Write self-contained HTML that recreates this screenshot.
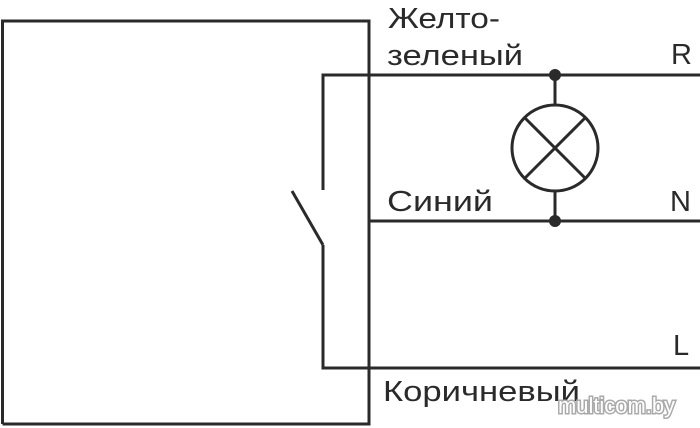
<!DOCTYPE html>
<html><head><meta charset="utf-8"><style>
html,body{margin:0;padding:0;background:#fff;width:700px;height:428px;overflow:hidden}
text{font-family:"Liberation Sans",sans-serif;fill:#2a2a2a}
</style></head><body>
<svg width="700" height="428" viewBox="0 0 700 428" xmlns="http://www.w3.org/2000/svg">
<g stroke="#2a2a2a" stroke-width="3" fill="none">
<polyline points="2.5,424 2.5,21 369,21 369,424 2.5,424"/>
<polyline points="323,190 323,75 700,75"/>
<line x1="292" y1="191" x2="323" y2="245"/>
<polyline points="323,245 323,368 700,368"/>
<line x1="369" y1="221" x2="700" y2="221"/>
<line x1="555" y1="75" x2="555" y2="105"/>
<line x1="555" y1="191" x2="555" y2="221"/>
<circle cx="555" cy="148" r="43"/>
<line x1="525" y1="118" x2="585" y2="178"/>
<line x1="585" y1="118" x2="525" y2="178"/>
</g>
<circle cx="555" cy="75" r="6" fill="#2a2a2a"/>
<circle cx="555" cy="221" r="6" fill="#2a2a2a"/>
<g font-size="29">
<text x="388" y="28" textLength="112" lengthAdjust="spacingAndGlyphs">Желто-</text>
<text x="387" y="65" textLength="136" lengthAdjust="spacingAndGlyphs">зеленый</text>
<text x="387" y="211" textLength="106" lengthAdjust="spacingAndGlyphs">Синий</text>
<text x="383" y="401" textLength="197" lengthAdjust="spacingAndGlyphs">Коричневый</text>
<text x="671" y="64">R</text>
<text x="670" y="211">N</text>
<text x="673" y="355">L</text>
</g>
<text x="558" y="413" font-size="22" textLength="117" lengthAdjust="spacingAndGlyphs" style="fill:#fff;stroke:#aaa;stroke-width:3;paint-order:stroke">multicom.by</text>
</svg>
</body></html>
